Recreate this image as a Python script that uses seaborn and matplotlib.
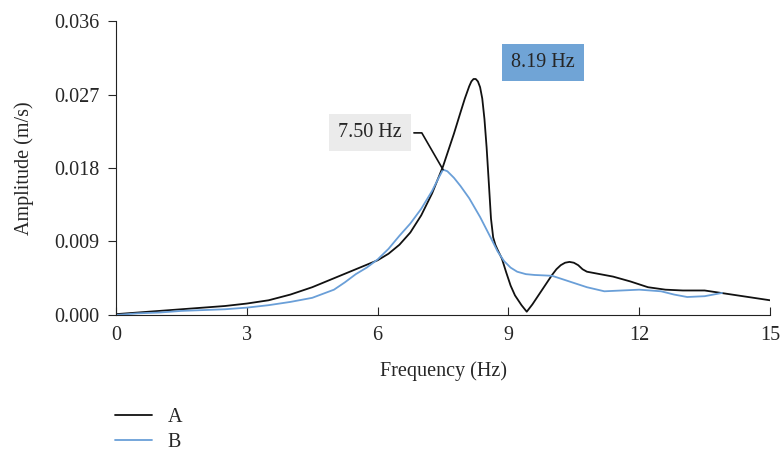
import numpy as np
import pandas as pd
import matplotlib
matplotlib.use("Agg")
import matplotlib.pyplot as plt
import seaborn as sns

# signal A (black)
freq_a = [0, 0.5, 1, 1.5, 2, 2.5, 3, 3.5, 4, 4.5, 5, 5.5, 6, 6.25, 6.5, 6.75,
          7, 7.25, 7.5, 7.75, 7.9, 8.0, 8.1, 8.15, 8.2, 8.25, 8.3, 8.35, 8.4,
          8.45, 8.5, 8.55, 8.6, 8.65, 8.7, 8.75, 8.85, 8.95, 9.05, 9.15, 9.3,
          9.42, 9.55, 9.7, 9.85, 10.0, 10.1, 10.2, 10.3, 10.4, 10.5, 10.6, 10.7,
          10.8, 11.0, 11.4, 11.8, 12.2, 12.6, 13.0, 13.5, 14.0, 14.5, 15.0]
amp_a = [0.0001, 0.0003, 0.0005, 0.0007, 0.0009, 0.0011, 0.0014, 0.0018, 0.0025,
         0.0034, 0.0045, 0.0056, 0.0067, 0.0075, 0.0086, 0.0101, 0.0122, 0.0149,
         0.0182, 0.0222, 0.0248, 0.0265, 0.0280, 0.0286, 0.0289, 0.0289, 0.0286,
         0.0279, 0.0265, 0.0240, 0.0205, 0.0162, 0.0118, 0.0095, 0.0086, 0.0080,
         0.0069, 0.0052, 0.0036, 0.0024, 0.0012, 0.0004, 0.0013, 0.0025, 0.0037,
         0.0049, 0.0056, 0.0061, 0.0064, 0.0065, 0.0064, 0.0061, 0.0056, 0.0053,
         0.0051, 0.0047, 0.0041, 0.0034, 0.0031, 0.0030, 0.0030, 0.0026, 0.0022,
         0.0018]

# signal B (blue)
freq_b = [0, 0.5, 1, 1.5, 2, 2.5, 3, 3.5, 4, 4.5, 5, 5.25, 5.5, 5.75, 6, 6.25,
          6.5, 6.75, 7, 7.25, 7.4, 7.5, 7.6, 7.75, 7.9, 8.1, 8.35, 8.6, 8.75,
          8.9, 9.05, 9.2, 9.4, 9.6, 10.0, 10.4, 10.8, 11.2, 11.6, 12.0, 12.5,
          12.8, 13.1, 13.5, 13.9]
amp_b = [0.0000, 0.0002, 0.0003, 0.0005, 0.0006, 0.0007, 0.0009, 0.0012, 0.0016,
         0.0021, 0.0031, 0.0040, 0.0050, 0.0058, 0.0068, 0.0081, 0.0097, 0.0112,
         0.0130, 0.0152, 0.0168, 0.0178, 0.0176, 0.0168, 0.0158, 0.0143, 0.0120,
         0.0094, 0.0078, 0.0066, 0.0058, 0.0053, 0.0050, 0.0049, 0.0048, 0.0041,
         0.0034, 0.0029, 0.0030, 0.0031, 0.0029, 0.0025, 0.0022, 0.0023, 0.0027]

x_ticks = [0, 3, 6, 9, 12, 15]
y_ticks = [0.0, 0.009, 0.018, 0.027, 0.036]

df = pd.concat([
    pd.DataFrame({'Frequency': freq_a, 'Amplitude': amp_a, 'Signal': 'A'}),
    pd.DataFrame({'Frequency': freq_b, 'Amplitude': amp_b, 'Signal': 'B'}),
])

sns.set_style("ticks")
plt.rcParams['font.family'] = ['Liberation Serif', 'DejaVu Serif']
fs = 14.5

fig = plt.figure(figsize=(7.81, 4.51), dpi=100)
ax = fig.add_axes([0.1485, 0.3016, 0.8375, 0.6518])

sns.lineplot(data=df, x='Frequency', y='Amplitude', hue='Signal',
             palette={'A': '#111111', 'B': '#6a9fd8'}, linewidth=1.3,
             sort=True, estimator=None, ax=ax)

ax.set_xlim(0, 15)
ax.set_ylim(0, 0.036)
ax.set_xticks(x_ticks)
ax.set_yticks(y_ticks)
ax.set_yticklabels([f"{v:.3f}" for v in y_ticks])
ax.tick_params(axis='x', direction='in', length=6, labelsize=fs, pad=8)
ax.tick_params(axis='y', direction='out', length=6, labelsize=fs, pad=6)
ax.set_xlabel('Frequency (Hz)', fontsize=fs, labelpad=12)
ax.set_ylabel('Amplitude (m/s)', fontsize=fs, labelpad=14)
sns.despine(ax=ax)
for s in ['left', 'bottom']:
    ax.spines[s].set_color('#222222')

# peak labels
ax.annotate('7.50 Hz', xy=(7.5, 0.0178), xytext=(5.83, 0.0223),
            ha='center', va='center', fontsize=fs,
            bbox=dict(boxstyle='square,pad=0.45', fc='#ebebeb', ec='none'),
            arrowprops=dict(arrowstyle='-', color='#111111', lw=1.2,
                            connectionstyle='angle,angleA=0,angleB=120,rad=0',
                            shrinkA=2, shrinkB=0))
ax.text(9.79, 0.0309, '8.19 Hz', ha='center', va='center', fontsize=fs,
        bbox=dict(boxstyle='square,pad=0.45', fc='#70a4d6', ec='none'))

sns.move_legend(ax, 'upper left', bbox_to_anchor=(0.122, 0.14),
                bbox_transform=fig.transFigure, frameon=False, title=None,
                handlelength=1.8, labelspacing=0.3, borderpad=0.5,
                fontsize=fs)

fig.savefig('out.png', dpi=100)
